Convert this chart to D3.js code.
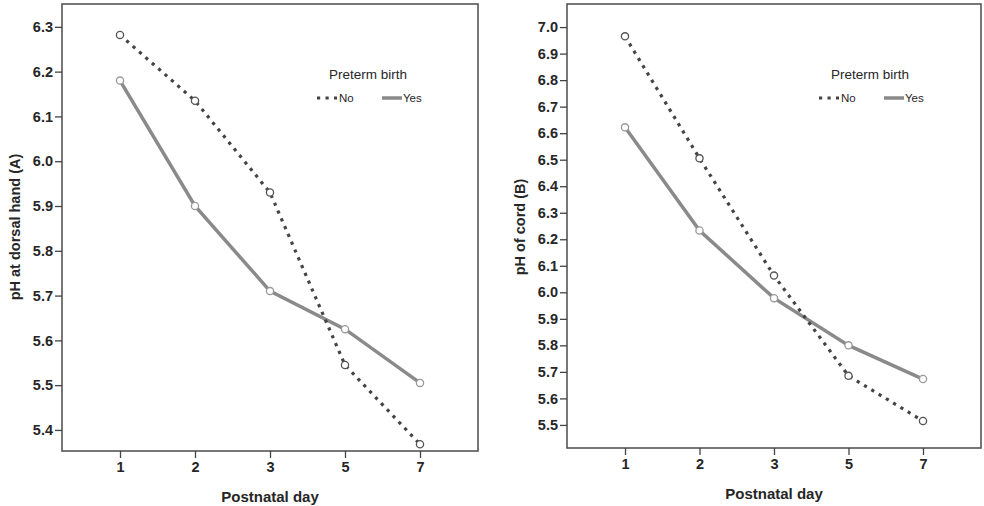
<!DOCTYPE html>
<html><head><meta charset="utf-8">
<script src="https://cdn.jsdelivr.net/npm/d3@7"></script>
<style>body{margin:0;background:#fff;} svg{display:block;}</style>
</head><body>
<svg id="chart" width="984" height="506"></svg>
<script>
const days = ["1","2","3","5","7"];
const handNo  = [6.282, 6.135, 5.930, 5.545, 5.368];
const handYes = [6.180, 5.900, 5.710, 5.625, 5.505];
const cordNo  = [6.965, 6.505, 6.063, 5.685, 5.515];
const cordYes = [6.622, 6.233, 5.978, 5.800, 5.673];
const handTicks = [5.4,5.5,5.6,5.7,5.8,5.9,6.0,6.1,6.2,6.3];
const cordTicks = [5.5,5.6,5.7,5.8,5.9,6.0,6.1,6.2,6.3,6.4,6.5,6.6,6.7,6.8,6.9,7.0];
const legendTitle = "Preterm birth";
const legendLabels = ["No","Yes"];
const xTitle = "Postnatal day";

const svg = d3.select("#chart");
const font = "'Liberation Sans', Arial, sans-serif";
const txt = "#262626";

function panel(opt){
  const g = svg.append("g");
  const x = d3.scalePoint().domain(days).range([opt.x0+58, opt.x1-58]);
  const y = d3.scaleLinear().domain(opt.ydom).range([opt.y1, opt.y0]);
  g.append("rect").attr("x",opt.x0).attr("y",opt.y0).attr("width",opt.x1-opt.x0).attr("height",opt.y1-opt.y0)
    .attr("fill","none").attr("stroke","#555").attr("stroke-width",1.6);
  const ya = g.append("g").attr("transform",`translate(${opt.x0},0)`)
    .call(d3.axisLeft(y).tickValues(opt.ticks).tickFormat(d3.format(".1f")).tickSize(7).tickPadding(2));
  ya.select(".domain").remove();
  ya.selectAll("line").attr("stroke","#444").attr("stroke-width",1.3);
  ya.selectAll("text").attr("font-family",font).attr("font-weight","bold").attr("font-size",14.5).attr("fill",txt);
  const xa = g.append("g").attr("transform",`translate(0,${opt.y1})`)
    .call(d3.axisBottom(x).tickSize(7).tickPadding(4));
  xa.select(".domain").remove();
  xa.selectAll("line").attr("stroke","#444").attr("stroke-width",1.3);
  xa.selectAll("text").attr("font-family",font).attr("font-weight","bold").attr("font-size",14.5).attr("fill",txt);
  g.append("text").attr("x",(opt.x0+opt.x1)/2).attr("y",opt.xtY).attr("text-anchor","middle")
    .attr("font-family",font).attr("font-weight","bold").attr("font-size",15).attr("fill",txt).text(xTitle);
  g.append("text").attr("transform",`translate(${opt.ytX},${opt.ytY}) rotate(-90)`).attr("text-anchor","middle")
    .attr("dy","0.35em").attr("font-family",font).attr("font-weight","bold").attr("font-size",14.5).attr("fill",txt).text(opt.ytitle);
  const line = d3.line().x((d,i)=>x(days[i])).y(d=>y(d));
  g.append("path").datum(opt.yes).attr("d",line).attr("fill","none").attr("stroke","#8a8a8a").attr("stroke-width",3.5);
  g.append("path").datum(opt.no).attr("d",line).attr("fill","none").attr("stroke","#444").attr("stroke-width",3.2)
    .attr("stroke-dasharray","3.2,5.3");
  g.selectAll(".my").data(opt.yes).enter().append("circle").attr("cx",(d,i)=>x(days[i])).attr("cy",d=>y(d)).attr("r",3.6)
    .attr("fill","#fff").attr("stroke","#999").attr("stroke-width",1.3);
  g.selectAll(".mn").data(opt.no).enter().append("circle").attr("cx",(d,i)=>x(days[i])).attr("cy",d=>y(d)).attr("r",3.6)
    .attr("fill","#fff").attr("stroke","#555").attr("stroke-width",1.3);
  const lg = g.append("g");
  lg.append("text").attr("x",opt.lx).attr("y",79).attr("text-anchor","middle").attr("font-family",font)
    .attr("font-size",13.5).attr("fill",txt).text(legendTitle);
  lg.append("line").attr("x1",opt.lx-51).attr("x2",opt.lx-31).attr("y1",98).attr("y2",98)
    .attr("stroke","#444").attr("stroke-width",3.2).attr("stroke-dasharray","3.2,5.3");
  lg.append("text").attr("x",opt.lx-29).attr("y",102).attr("font-family",font).attr("font-size",11.5).attr("fill",txt).text(legendLabels[0]);
  lg.append("line").attr("x1",opt.lx+14).attr("x2",opt.lx+34).attr("y1",98).attr("y2",98)
    .attr("stroke","#8a8a8a").attr("stroke-width",3.5);
  lg.append("text").attr("x",opt.lx+35).attr("y",102).attr("font-family",font).attr("font-size",11.5).attr("fill",txt).text(legendLabels[1]);
}

panel({x0:62,x1:478,y0:4,y1:451,ydom:[5.353,6.351],ticks:handTicks,no:handNo,yes:handYes,
  ytitle:"pH at dorsal hand (A)",ytX:15,ytY:227,xtY:502,lx:368});
panel({x0:567,x1:981,y0:4,y1:448,ydom:[5.413,7.087],ticks:cordTicks,no:cordNo,yes:cordYes,
  ytitle:"pH of cord (B)",ytX:520,ytY:227,xtY:499,lx:870});
</script>
</body></html>
